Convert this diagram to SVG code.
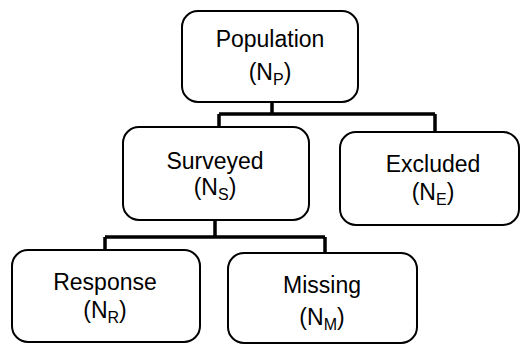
<svg xmlns="http://www.w3.org/2000/svg" width="521" height="344" viewBox="0 0 521 344">
<style>
.box{fill:#fff;stroke:#000;stroke-width:2}
.t{font-family:"Liberation Sans",Arial,sans-serif;font-size:23px;fill:#000;text-anchor:middle}
.s{font-size:16px}
.c{fill:none;stroke:#000;stroke-width:3.5}
</style>
<rect width="521" height="344" fill="#fff"/>
<g id="connectors">
<path class="c" d="M272,102 V114 M219,114 H435 M219,114 V127 M435,114 V132"/>
<path class="c" d="M215,220 V237 M105,237 H325 M105,237 V250 M325,237 V253"/>
</g>
<g id="population">
<rect class="box" x="182" y="11" width="176" height="91" rx="16"/>
<text class="t" x="270" y="47">Population</text>
<text class="t" x="270" y="80">(N<tspan class="s" dy="5">P</tspan><tspan dy="-5">)</tspan></text>
</g>
<g id="surveyed">
<rect class="box" x="123" y="127" width="186" height="93" rx="16"/>
<text class="t" x="215" y="169">Surveyed</text>
<text class="t" x="215" y="195">(N<tspan class="s" dy="5">S</tspan><tspan dy="-5">)</tspan></text>
</g>
<g id="excluded">
<rect class="box" x="340" y="132" width="179" height="93" rx="16"/>
<text class="t" x="433" y="172">Excluded</text>
<text class="t" x="433" y="200">(N<tspan class="s" dy="5">E</tspan><tspan dy="-5">)</tspan></text>
</g>
<g id="response">
<rect class="box" x="12" y="250" width="188" height="92" rx="16"/>
<text class="t" x="105" y="290">Response</text>
<text class="t" x="105" y="318">(N<tspan class="s" dy="5">R</tspan><tspan dy="-5">)</tspan></text>
</g>
<g id="missing">
<rect class="box" x="228" y="253" width="189" height="90" rx="16"/>
<text class="t" x="322" y="293">Missing</text>
<text class="t" x="322" y="325">(N<tspan class="s" dy="5">M</tspan><tspan dy="-5">)</tspan></text>
</g>
</svg>
